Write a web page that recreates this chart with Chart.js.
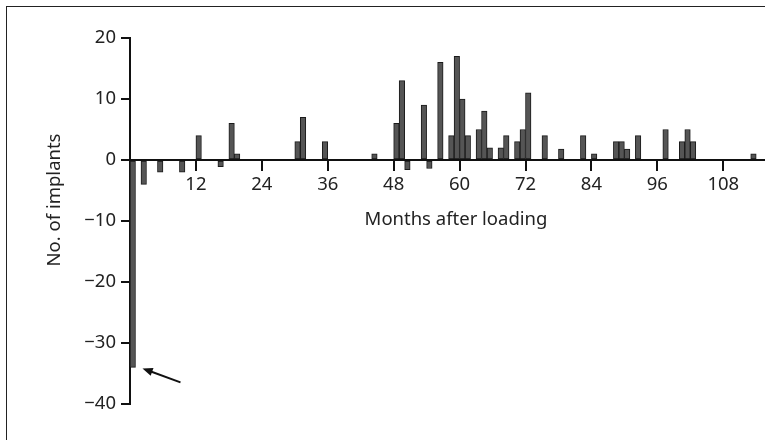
<!DOCTYPE html>
<html>
<head>
<meta charset="utf-8">
<script src="https://cdn.jsdelivr.net/npm/chart.js@4.4.1/dist/chart.umd.min.js"></script>
<style>
  html, body { margin: 0; padding: 0; background: #fff; }
  body { width: 765px; height: 440px; overflow: hidden; position: relative; }
  #chart { position: absolute; left: 0; top: 0; }
  #frame { position: absolute; left: 6px; top: 6px; width: 800px; height: 480px;
           border: 1px solid #222; pointer-events: none; }
</style>
</head>
<body>
<canvas id="chart" width="765" height="440"></canvas>
<div id="frame"></div>
<script>
// months after loading (bar start) and net count of implants
const months = [0, 2, 5, 9, 12, 16, 18, 19, 30, 31, 35, 44, 48, 49, 50, 53, 54, 56, 58, 59,
  60, 61, 63, 64, 65, 67, 68, 70, 71, 72, 75, 78, 82, 84, 88, 89, 90, 92, 97, 100, 101, 102, 113];
const counts = [-34, -4, -2, -2, 4, -1.1, 6, 1, 3, 7, 3, 1, 6, 13, -1.6, 9, -1.4, 16, 4, 17,
  10, 4, 5, 8, 2, 2, 4, 3, 5, 11, 4, 1.8, 4, 1, 3, 3, 1.8, 4, 5, 3, 5, 3, 1];
const xTicks = [12, 24, 36, 48, 60, 72, 84, 96, 108];
const yTicks = [-40, -30, -20, -10, 0, 10, 20];

const fontFamily = "'Noto Sans', 'Liberation Sans', sans-serif";
const textColor = "#222";

// axis titles + arrow pointing at the first bar
const extras = {
  id: "extras",
  afterDraw(chart) {
    const ctx = chart.ctx;
    ctx.save();
    ctx.fillStyle = textColor;
    ctx.font = "18.5px " + fontFamily;
    ctx.textAlign = "center";
    ctx.textBaseline = "middle";
    ctx.fillText("Months after loading", 456, 220);
    ctx.translate(55, 200);
    ctx.rotate(-Math.PI / 2);
    ctx.fillText("No. of implants", 0, 0);
    ctx.restore();

    const bar = chart.getDatasetMeta(0).data[0];
    const tipX = bar.x + bar.width / 2 + 7;
    const tipY = bar.y + 1;
    const tailX = tipX + 38;
    const tailY = tipY + 14;
    const ang = Math.atan2(tipY - tailY, tipX - tailX);
    ctx.save();
    ctx.strokeStyle = "#111";
    ctx.fillStyle = "#111";
    ctx.lineWidth = 2;
    ctx.beginPath();
    ctx.moveTo(tailX, tailY);
    ctx.lineTo(tipX + 6 * Math.cos(ang + Math.PI), tipY + 6 * Math.sin(ang + Math.PI));
    ctx.stroke();
    ctx.beginPath();
    ctx.moveTo(tipX, tipY);
    ctx.lineTo(tipX - 11 * Math.cos(ang - 0.38), tipY - 11 * Math.sin(ang - 0.38));
    ctx.lineTo(tipX - 11 * Math.cos(ang + 0.38), tipY - 11 * Math.sin(ang + 0.38));
    ctx.closePath();
    ctx.fill();
    ctx.restore();
  }
};

new Chart(document.getElementById("chart"), {
  type: "bar",
  data: {
    datasets: [{
      data: months.map((m, i) => ({ x: m + 0.5, y: counts[i] })),
      backgroundColor: "#555",
      borderColor: "#1a1a1a",
      borderWidth: 1,
      borderSkipped: false,
      barPercentage: 1,
      categoryPercentage: 1
    }]
  },
  options: {
    responsive: false,
    animation: false,
    layout: { padding: { left: 0, right: 0, top: 38, bottom: 36 } },
    plugins: { legend: { display: false }, tooltip: { enabled: false } },
    scales: {
      x: {
        type: "linear",
        position: { y: 0 },
        offset: false,
        min: 0,
        max: 115.6,
        afterBuildTicks: (s) => { s.ticks = xTicks.map(v => ({ value: v })); },
        border: { display: true, color: "#111", width: 2 },
        grid: { offset: false, drawOnChartArea: false, drawTicks: true, tickLength: 10, tickColor: "#111", lineWidth: 2 },
        ticks: { color: textColor, font: { family: fontFamily, size: 18.5 }, padding: 4, maxRotation: 0, autoSkip: false }
      },
      y: {
        min: -40,
        max: 20,
        afterBuildTicks: (s) => { s.ticks = yTicks.map(v => ({ value: v })); },
        afterFit: (s) => { s.width = 130; },
        border: { display: true, color: "#111", width: 2 },
        grid: { drawOnChartArea: false, drawTicks: true, tickLength: 9, tickColor: "#111", lineWidth: 2 },
        ticks: {
          color: textColor,
          font: { family: fontFamily, size: 18.5 },
          padding: 5,
          callback: (v) => String(v).replace("-", "\u2212")
        }
      }
    }
  },
  plugins: [extras]
});
</script>
</body>
</html>
